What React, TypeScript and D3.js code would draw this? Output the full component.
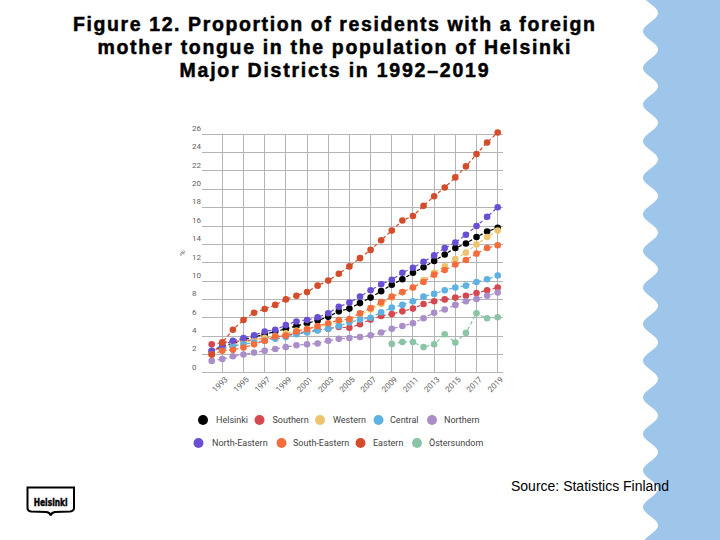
import React from "react";
import * as d3 from "d3";

// Years shown on the horizontal axis
const years = [
  1992, 1993, 1994, 1995, 1996, 1997, 1998, 1999, 2000, 2001, 2002, 2003, 2004, 2005,
  2006, 2007, 2008, 2009, 2010, 2011, 2012, 2013, 2014, 2015, 2016, 2017, 2018, 2019,
];
const ostersundomYears = [2009, 2010, 2011, 2012, 2013, 2014, 2015, 2016, 2017, 2018, 2019];

// Share of residents with a foreign mother tongue, %
const helsinki = [2.3, 2.8, 3.2, 3.6, 3.9, 4.2, 4.5, 4.8, 5.1, 5.4, 5.7, 6.1, 6.7, 7.0, 7.6, 8.2, 8.9, 9.6, 10.2, 10.9, 11.5, 12.2, 12.9, 13.6, 14.1, 14.8, 15.4, 15.8];
const southern = [3.1, 3.3, 3.4, 3.5, 3.6, 3.8, 3.9, 4.1, 4.3, 4.5, 4.7, 4.8, 5.0, 4.9, 5.3, 5.8, 6.2, 6.4, 6.7, 7.0, 7.5, 7.8, 8.0, 8.2, 8.4, 8.7, 9.0, 9.3];
const western = [2.3, 2.7, 3.0, 3.3, 3.5, 3.8, 4.0, 4.3, 4.6, 4.8, 5.0, 5.2, 5.5, 5.8, 6.3, 6.9, 7.5, 8.2, 8.8, 9.3, 10.1, 10.9, 11.6, 12.4, 13.1, 14.0, 14.8, 15.5];
const central = [2.4, 2.6, 2.9, 3.1, 3.3, 3.5, 3.7, 3.9, 4.2, 4.4, 4.6, 4.8, 5.1, 5.5, 5.8, 6.0, 6.6, 7.1, 7.4, 7.8, 8.3, 8.6, 9.0, 9.3, 9.5, 9.9, 10.2, 10.6];
const northern = [1.3, 1.5, 1.8, 2.0, 2.2, 2.4, 2.6, 2.8, 3.0, 3.1, 3.2, 3.5, 3.7, 3.8, 3.9, 4.1, 4.4, 4.8, 5.1, 5.4, 5.95, 6.55, 6.9, 7.4, 7.8, 8.05, 8.4, 8.75];
const northEastern = [2.4, 3.0, 3.5, 3.8, 4.1, 4.5, 4.7, 5.2, 5.6, 5.75, 6.05, 6.5, 7.2, 7.65, 8.3, 9.0, 9.65, 10.15, 10.9, 11.45, 12.1, 12.8, 13.6, 14.2, 15.05, 16.0, 17.0, 18.05];
const southEastern = [2.0, 2.4, 2.5, 2.75, 3.1, 3.5, 3.95, 4.05, 4.5, 4.75, 5.1, 5.4, 5.75, 5.85, 6.5, 7.05, 7.7, 8.3, 8.8, 9.3, 9.9, 10.7, 11.2, 11.8, 12.3, 13.0, 13.6, 13.9];
const eastern = [2.0, 3.3, 4.7, 5.75, 6.55, 6.95, 7.4, 8.0, 8.4, 8.8, 9.5, 10.05, 10.8, 11.6, 12.5, 13.4, 14.45, 15.5, 16.6, 17.1, 18.2, 19.25, 20.2, 21.3, 22.5, 23.85, 25.1, 26.2];
const ostersundom = [3.15, 3.35, 3.35, 2.8, 3.1, 4.2, 3.3, 4.35, 6.5, 5.95, 6.05];

const yTicks = [0, 2, 4, 6, 8, 10, 12, 14, 16, 18, 20, 22, 24, 26];
const xTickYears = [1993, 1995, 1997, 1999, 2001, 2003, 2005, 2007, 2009, 2011, 2013, 2015, 2017, 2019];

const titleLines = [
  "Figure 12. Proportion of residents with a foreign",
  "mother tongue in the population of Helsinki",
  "Major Districts in 1992–2019",
];

type Series = { name: string; color: string; years: number[]; values: number[] };

const series: Series[] = [
  { name: "Helsinki", color: "#000000", years, values: helsinki },
  { name: "Southern", color: "#d5484f", years, values: southern },
  { name: "Western", color: "#ecc46f", years, values: western },
  { name: "Central", color: "#5eb1e0", years, values: central },
  { name: "Northern", color: "#aa8ec9", years, values: northern },
  { name: "North-Eastern", color: "#6a4fd3", years, values: northEastern },
  { name: "South-Eastern", color: "#f26c3c", years, values: southEastern },
  { name: "Eastern", color: "#d34d2b", years, values: eastern },
  { name: "Östersundom", color: "#8cc4a8", years: ostersundomYears, values: ostersundom },
];

// Legend rows: [series index, circle x, text x]
const legendRows = [
  { y: 420, items: [[0, 203, 216], [1, 259.5, 272.5], [2, 320, 333], [3, 378.5, 390], [4, 432, 444]] },
  { y: 443, items: [[5, 198.5, 212], [6, 281.5, 293], [7, 360.5, 373], [8, 417, 429]] },
];

const W = 720;
const H = 540;

const x = d3.scaleLinear().domain([1992, 2019]).range([211.7, 497.7]);
const y = d3.scaleLinear().domain([0, 26]).range([372.8, 134.3]);

// Scalloped band on the right edge
function bandPath(): string {
  const period = 36.6;
  const pts: [number, number][] = [];
  for (let yy = 0; yy <= H; yy += 1) {
    pts.push([650.5 + 7.5 * Math.cos((2 * Math.PI * (yy - 13)) / period), yy]);
  }
  const edge = d3.line()(pts) as string;
  return `${edge} L${W},${H} L${W},0 Z`;
}

export default function App() {
  const line = d3
    .line<[number, number]>()
    .x((d) => x(d[0]))
    .y((d) => y(d[1]));

  const font = "Roboto, 'Noto Sans', sans-serif";

  return (
    <svg
      width={W}
      height={H}
      viewBox={`0 0 ${W} ${H}`}
      style={{ position: "fixed", left: 0, top: 0, background: "#ffffff" }}
    >
      <rect width={W} height={H} fill="#ffffff" />

      {/* title */}
      {titleLines.map((t, i) => (
        <text
          key={i}
          x={334}
          y={31 + i * 23}
          textAnchor="middle"
          fontFamily="'Liberation Sans', Arial, sans-serif"
          fontWeight="bold"
          fontSize={19.5}
          fill="#000"
          stroke="#000"
          strokeWidth={0.5}
          textLength={[522, 473, 309][i]}
          lengthAdjust="spacing"
        >
          {t}
        </text>
      ))}

      {/* grid */}
      <g stroke="#b4b4b4" strokeWidth={1} shapeRendering="crispEdges">
        {yTicks.map((v) => (
          <line key={`h${v}`} x1={202} x2={503} y1={y(v)} y2={y(v)} />
        ))}
        {xTickYears.map((yr) => (
          <line key={`v${yr}`} x1={x(yr)} x2={x(yr)} y1={y(26)} y2={y(0)} />
        ))}
      </g>

      {/* y axis labels */}
      <g fontFamily={font} fontSize={8} fill="#616161">
        {yTicks.map((v) => (
          <text key={v} x={192} y={y(v) - 6} dy="0.35em">
            {v}
          </text>
        ))}
        <text transform={`translate(182,253) rotate(-90)`} textAnchor="middle" dy="0.35em">
          %
        </text>
      </g>

      {/* x axis labels */}
      <g fontFamily={font} fontSize={8} fill="#616161">
        {xTickYears.map((yr) => (
          <text
            key={yr}
            transform={`translate(${x(yr) + 4},${378}) rotate(-45)`}
            textAnchor="end"
            dy="0.35em"
          >
            {yr}
          </text>
        ))}
      </g>

      {/* series */}
      {series.map((s) => {
        const pts = s.years.map((yr, i) => [yr, s.values[i]] as [number, number]);
        return (
          <g key={s.name}>
            <path
              d={line(pts) as string}
              fill="none"
              stroke={s.color}
              strokeWidth={1.2}
              strokeDasharray="3.5 2.5"
            />
            {pts.map((p, i) => (
              <circle key={i} cx={x(p[0])} cy={y(p[1])} r={3.3} fill={s.color} />
            ))}
          </g>
        );
      })}

      {/* legend */}
      <g fontFamily={font} fontSize={9} fill="#424242">
        {legendRows.map((row, ri) =>
          row.items.map(([idx, cx, tx]) => (
            <g key={`${ri}-${idx}`}>
              <circle cx={cx} cy={row.y} r={5} fill={series[idx].color} />
              <text x={tx} y={row.y} dy="0.35em">
                {series[idx].name}
              </text>
            </g>
          ))
        )}
      </g>

      {/* right band */}
      <path d={bandPath()} fill="#9dc6ea" />

      {/* source */}
      <text
        x={511}
        y={491}
        fontFamily="'Liberation Sans', Arial, sans-serif"
        fontSize={14}
        fill="#000"
      >
        Source: Statistics Finland
      </text>

      {/* city logo */}
      <g>
        <path
          d="M27.5,487.5 H74 V508 Q74,511 70,511.5 L55,512 Q51.5,512.5 50.7,515.5 Q50,512.5 46.5,512 L31,511.5 Q27.5,511 27.5,508 Z"
          fill="#ffffff"
          stroke="#000"
          strokeWidth={2}
        />
        <text
          x={50.7}
          y={502}
          textAnchor="middle"
          dy="0.35em"
          fontFamily="'DejaVu Sans Condensed', 'Liberation Sans', Arial, sans-serif"
          fontWeight="bold"
          fontSize={10}
          stroke="#000"
          strokeWidth={0.4}
          textLength={34}
          lengthAdjust="spacingAndGlyphs"
          fill="#000"
        >
          Helsinki
        </text>
      </g>
    </svg>
  );
}
